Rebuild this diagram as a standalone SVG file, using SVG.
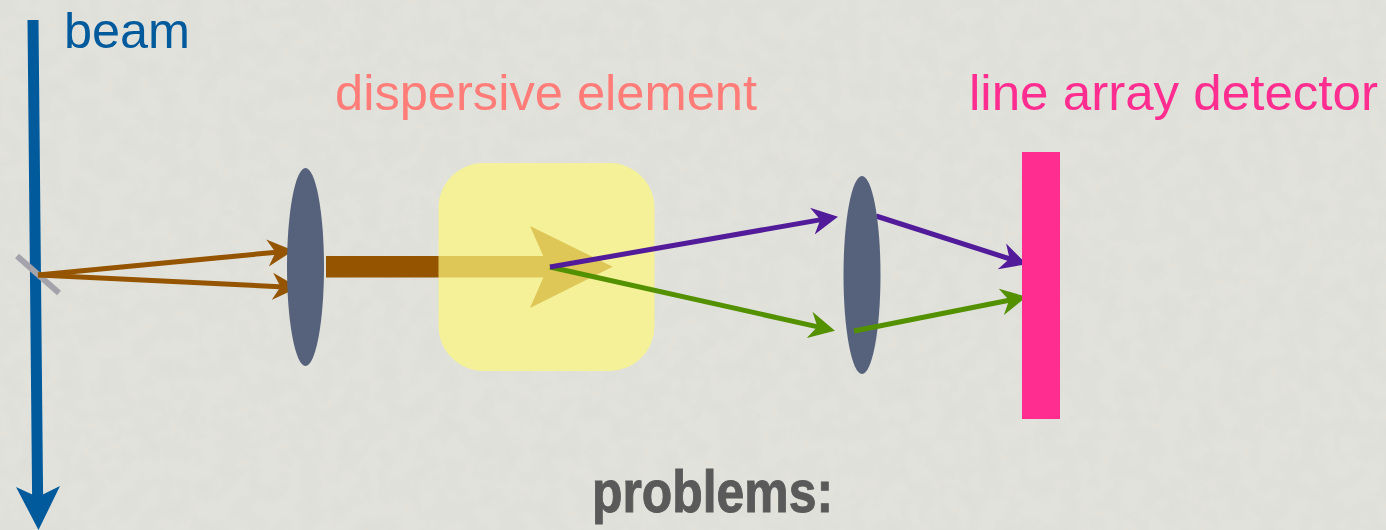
<svg xmlns="http://www.w3.org/2000/svg" width="1386" height="530" viewBox="0 0 1386 530">
<style>
.lens{fill:#56627c}
.ray{fill:none;stroke-width:5}
.brown{stroke:#955500}.purple{stroke:#521b9a}.green{stroke:#549100}
text{font-family:"Liberation Sans",Arial,sans-serif}
.lbl{font-size:50px}
</style>
<defs>
<filter id="paper" x="0" y="0" width="100%" height="100%">
<feTurbulence type="fractalNoise" baseFrequency="0.05" numOctaves="3" seed="4" result="n"/>
<feColorMatrix in="n" type="matrix" values="0 0 0 0 0.55 0 0 0 0 0.55 0 0 0 0 0.5 0.2 0 0 0 -0.06"/>
<feComposite in2="SourceGraphic" operator="over"/>
</filter>
<marker id="hb" markerUnits="userSpaceOnUse" markerWidth="28" markerHeight="28" refX="12" refY="14" orient="auto"><path d="M0,.5L26,14L0,27.5L8,14z" fill="#955500"/></marker>
<marker id="hp" markerUnits="userSpaceOnUse" markerWidth="28" markerHeight="28" refX="12" refY="14" orient="auto"><path d="M0,.5L26,14L0,27.5L8,14z" fill="#521b9a"/></marker>
<marker id="hg" markerUnits="userSpaceOnUse" markerWidth="28" markerHeight="28" refX="12" refY="14" orient="auto"><path d="M0,.5L26,14L0,27.5L8,14z" fill="#549100"/></marker>
</defs>
<rect id="background" width="1386" height="530" fill="#e2e2dc" filter="url(#paper)"/>
<g id="beam-line">
<path d="M33,20L37.600,497" fill="none" stroke="#005a9c" stroke-width="11"/>
<path d="M16,487L37.700,497L60,486L38.500,530z" fill="#005a9c"/>
</g>
<g id="mirror"><line x1="17" y1="256" x2="59" y2="293" stroke="#a4a3ab" stroke-width="6"/></g>
<g id="connectors-back">
<path class="ray brown" d="M38,275L279.500,251.900" marker-end="url(#hb)"/>
<path class="ray brown" d="M38,275L284.500,286.900" marker-end="url(#hb)"/>
<path class="ray purple" d="M876,216L1013.400,260" marker-end="url(#hp)"/>
</g>
<g id="collimated-beam">
<path d="M326,256H548V277.500H326z" fill="#955500"/>
<path d="M530,226L612.700,266.700L530,308L548,266.700z" fill="#955500"/>
</g>
<g id="lens-1"><ellipse class="lens" cx="305.500" cy="267" rx="18.500" ry="99"/></g>
<g id="lens-2"><ellipse class="lens" cx="862" cy="275" rx="18.500" ry="99"/></g>
<g id="dispersive-box"><rect x="438.500" y="163" width="216" height="208" rx="45" fill="#fef87c" opacity=".7"/></g>
<g id="connectors">
<path class="ray green" d="M550,267L821.300,327.600" marker-end="url(#hg)"/>
<path class="ray purple" d="M550,267L824.200,219.100" marker-end="url(#hp)"/>
<path class="ray green" d="M854,331L1013,299.500" marker-end="url(#hg)"/>
</g>
<g id="detector"><rect x="1022" y="152" width="38" height="267" fill="#ff2d8f"/></g>
<g id="labels">
<text id="beam-label" class="lbl" x="64" y="48" fill="#005a9c" textLength="126" lengthAdjust="spacingAndGlyphs">beam</text>
<text id="dispersive-label" class="lbl" x="335" y="110" fill="#ff7c78" textLength="422" lengthAdjust="spacingAndGlyphs">dispersive element</text>
<text id="detector-label" class="lbl" x="969" y="110" fill="#ff2d8f" textLength="409" lengthAdjust="spacingAndGlyphs">line array detector</text>
<text id="problems-label" x="592" y="512" font-size="60" font-weight="700" fill="#5a5a5a" stroke="#5a5a5a" stroke-width="1" textLength="241" lengthAdjust="spacingAndGlyphs">problems:</text>
</g>
</svg>
